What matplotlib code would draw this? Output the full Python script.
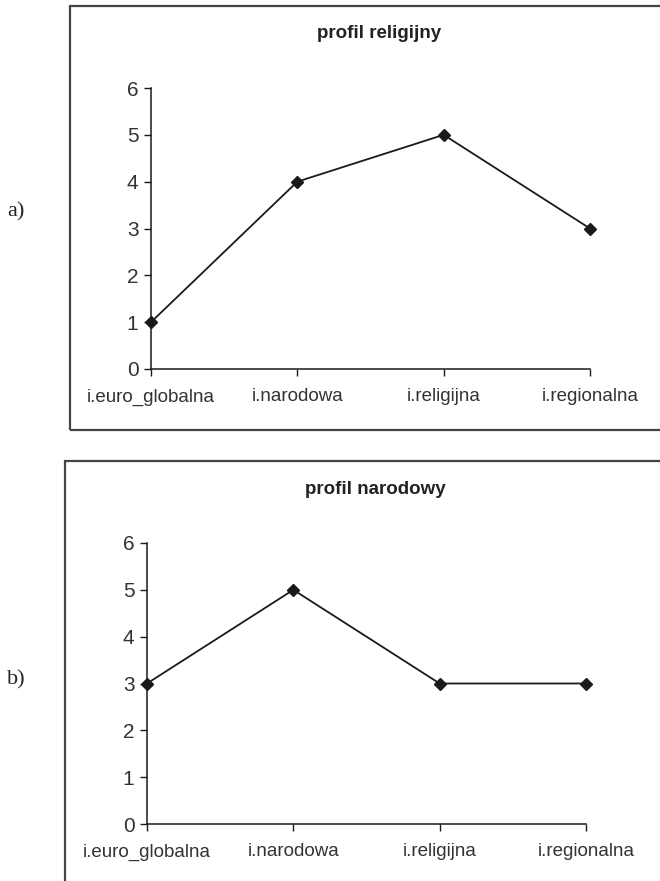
import matplotlib
matplotlib.use("Agg")
import matplotlib.pyplot as plt
from matplotlib.patches import Rectangle

categories = ["i.euro_globalna", "i.narodowa", "i.religijna", "i.regionalna"]
religious_profile = [1, 4, 5, 3]
national_profile = [3, 5, 3, 3]
y_ticks = [0, 1, 2, 3, 4, 5, 6]

W, H = 660, 881
plt.rcParams["font.family"] = ["Liberation Sans", "DejaVu Sans"]

fig = plt.figure(figsize=(W / 100, H / 100), dpi=100)


def px(x0, y0, x1, y1):
    # pixel box (top-left origin) -> figure fraction [left, bottom, width, height]
    return [x0 / W, 1 - y1 / H, (x1 - x0) / W, (y1 - y0) / H]


def draw_panel(values, title, tag, frame, axes_px, title_xy, tag_y):
    fig.patches.append(Rectangle((frame[0] / W, 1 - frame[3] / H),
                                 (frame[2] - frame[0]) / W, (frame[3] - frame[1]) / H,
                                 transform=fig.transFigure, fill=False,
                                 edgecolor="#444444", linewidth=1.6))
    ax = fig.add_axes(px(*axes_px))
    ax.plot(range(len(categories)), values, color="#1a1a1a", linewidth=1.3,
            marker="D", markersize=6.5, markerfacecolor="#1a1a1a",
            markeredgecolor="#1a1a1a", clip_on=False)
    ax.set_xlim(0, len(categories) - 1)
    ax.set_ylim(0, 6)
    ax.set_yticks(y_ticks)
    ax.set_xticks(range(len(categories)))
    ax.set_xticklabels(categories)
    for s in ["top", "right"]:
        ax.spines[s].set_visible(False)
    for s in ["left", "bottom"]:
        ax.spines[s].set_color("#1a1a1a")
        ax.spines[s].set_linewidth(1.1)
    ax.tick_params(axis="y", direction="out", length=5, width=1.0, color="#1a1a1a",
                   labelsize=15, labelcolor="#333333", pad=4)
    ax.tick_params(axis="x", direction="out", length=5, width=1.0, color="#1a1a1a",
                   labelsize=13.5, labelcolor="#333333", pad=9)
    ax.set_facecolor("none")
    fig.text(title_xy[0] / W, 1 - title_xy[1] / H, title, ha="center", va="center",
             fontsize=13.5, fontweight="bold", color="#222222")
    fig.text(16 / W, 1 - tag_y / H, tag, ha="center", va="center",
             fontsize=16, family=["Liberation Serif", "DejaVu Serif"], color="#222222")
    return ax


draw_panel(religious_profile, "profil religijny", "a)",
           frame=(70, 6, 700, 430), axes_px=(151, 88, 590, 369),
           title_xy=(379, 34), tag_y=212)
draw_panel(national_profile, "profil narodowy", "b)",
           frame=(65, 461, 700, 930), axes_px=(147, 543, 586, 824),
           title_xy=(375, 489), tag_y=680)

fig.savefig("out.png", dpi=100)
